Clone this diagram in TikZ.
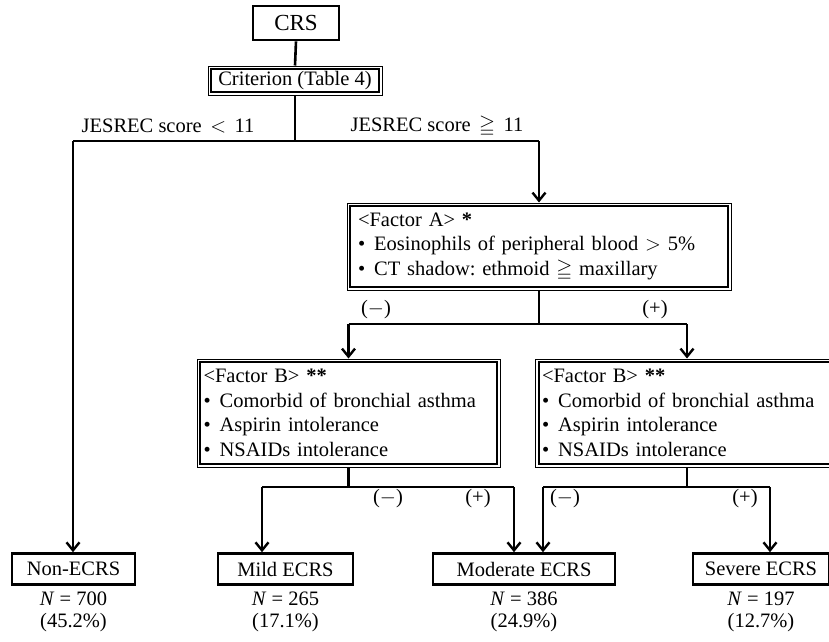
\documentclass[tikz,border=0pt]{standalone}
\usepackage{amssymb}
\usepackage{fontspec}
\setmainfont{Liberation Serif}
\usetikzlibrary{arrows.meta}
\frenchspacing
\newcommand\inframe[1]{\draw[line width=2pt] ([shift={(3.5,3.5)}]#1.north west) rectangle ([shift={(-3.5,-3.5)}]#1.south east);}
\begin{document}
\begin{tikzpicture}[x=1pt,y=-1pt,font=\fontsize{20.5}{24.5}\selectfont,
  thickbox/.style={draw,line width=2.6pt,inner sep=0pt,align=center},
  dblbox/.style={draw,line width=1pt,inner sep=0pt},
  conn/.style={line width=2.6pt},
  arr/.style={line width=2.6pt,-{Straight Barb[length=8pt,width=13pt,line width=2.4pt]}},
  lbl/.style={inner sep=0pt},
  stat/.style={inner sep=0pt,align=center,font=\fontsize{20.5}{21.5}\selectfont}]
\useasboundingbox (0,0) rectangle (829,641);

% top
\node[thickbox,minimum width=86pt,minimum height=34pt,font=\fontsize{23}{26}\selectfont] (crs) at (296,23) {CRS};
\node[dblbox,minimum width=174pt,minimum height=29pt] (crit) at (295,80.5) {Criterion (Table 4)};
\inframe{crit}
\draw[conn] (crs.south) -- (crit.north);

\coordinate (split) at (295,141);
\coordinate (lft) at (73,141);
\coordinate (rgt) at (539,141);
\draw[conn] (crit.south) -- (split);
\draw[conn] (lft) -- (rgt);
\node[lbl] (lowlbl) at (168,126) {JESREC score \,$<$\, 11};
\node[lbl] (highlbl) at (437,126) {JESREC score \,$\geqq$\, 11};

% factor A
\node[dblbox,minimum width=384pt,minimum height=87pt,text width=362pt,align=left] (fa) at (539,246.5)
 {<Factor A> \textbf{*}\\
  \textbullet\hspace{9pt}Eosinophils of peripheral blood $>$ 5\%\\
  \textbullet\hspace{9pt}CT shadow: ethmoid $\geqq$ maxillary};
\inframe{fa}
\draw[arr] (rgt) -- (fa.north);

\coordinate (asplit) at (539,324);
\coordinate (al) at (348.5,324);
\coordinate (ar) at (687,324);
\draw[conn] (fa.south) -- (asplit);
\draw[conn] (al) -- (ar);
\node[lbl] (aneg) at (376,310) {($-$)};
\node[lbl] (apos) at (655,310) {(+)};

% factor B
\node[dblbox,minimum width=303pt,minimum height=108pt,text width=290pt,align=left] (fb1) at (348.5,413)
 {<Factor B> \textbf{**}\\
  \textbullet\hspace{9pt}Comorbid of bronchial asthma\\
  \textbullet\hspace{9pt}Aspirin intolerance\\
  \textbullet\hspace{9pt}NSAIDs intolerance};
\inframe{fb1}
\node[dblbox,minimum width=303pt,minimum height=108pt,text width=290pt,align=left] (fb2) at (687,413)
 {<Factor B> \textbf{**}\\
  \textbullet\hspace{9pt}Comorbid of bronchial asthma\\
  \textbullet\hspace{9pt}Aspirin intolerance\\
  \textbullet\hspace{9pt}NSAIDs intolerance};
\inframe{fb2}
\draw[arr] (al) -- (fb1.north);
\draw[arr] (ar) -- (fb2.north);

% outcomes
\node[thickbox,minimum width=123pt,minimum height=31pt] (non) at (73.5,569) {Non-ECRS};
\node[thickbox,minimum width=135pt,minimum height=31pt] (mild) at (285.5,569) {Mild ECRS};
\node[thickbox,minimum width=182pt,minimum height=31pt] (mod) at (524,569) {Moderate ECRS};
\node[thickbox,minimum width=136pt,minimum height=31pt] (sev) at (761,569) {Severe ECRS};

\node[stat] (nnon) at (73.5,612) {\textit{N} = 700\\(45.2\%)};
\node[stat] (nmild) at (285.5,612) {\textit{N} = 265\\(17.1\%)};
\node[stat] (nmod) at (524,612) {\textit{N} = 386\\(24.9\%)};
\node[stat] (nsev) at (761,612) {\textit{N} = 197\\(12.7\%)};

\draw[arr] (lft) -- (lft |- non.north);

\coordinate (b1) at (348.5,487);
\coordinate (b1l) at (262,487);
\coordinate (b1r) at (514,487);
\draw[conn] (fb1.south) -- (b1);
\draw[conn] (b1l) -- (b1r);
\draw[arr] (b1l) -- (b1l |- mild.north);
\draw[arr] (b1r) -- (b1r |- mod.north);
\node[lbl] (bneg1) at (388,499) {($-$)};
\node[lbl] (bpos1) at (478,499) {(+)};

\coordinate (b2) at (687,487);
\coordinate (b2l) at (543,487);
\coordinate (b2r) at (770,487);
\draw[conn] (fb2.south) -- (b2);
\draw[conn] (b2l) -- (b2r);
\draw[arr] (b2l) -- (b2l |- mod.north);
\draw[arr] (b2r) -- (b2r |- sev.north);
\node[lbl] (bneg2) at (565,499) {($-$)};
\node[lbl] (bpos2) at (745,499) {(+)};
\end{tikzpicture}
\end{document}
